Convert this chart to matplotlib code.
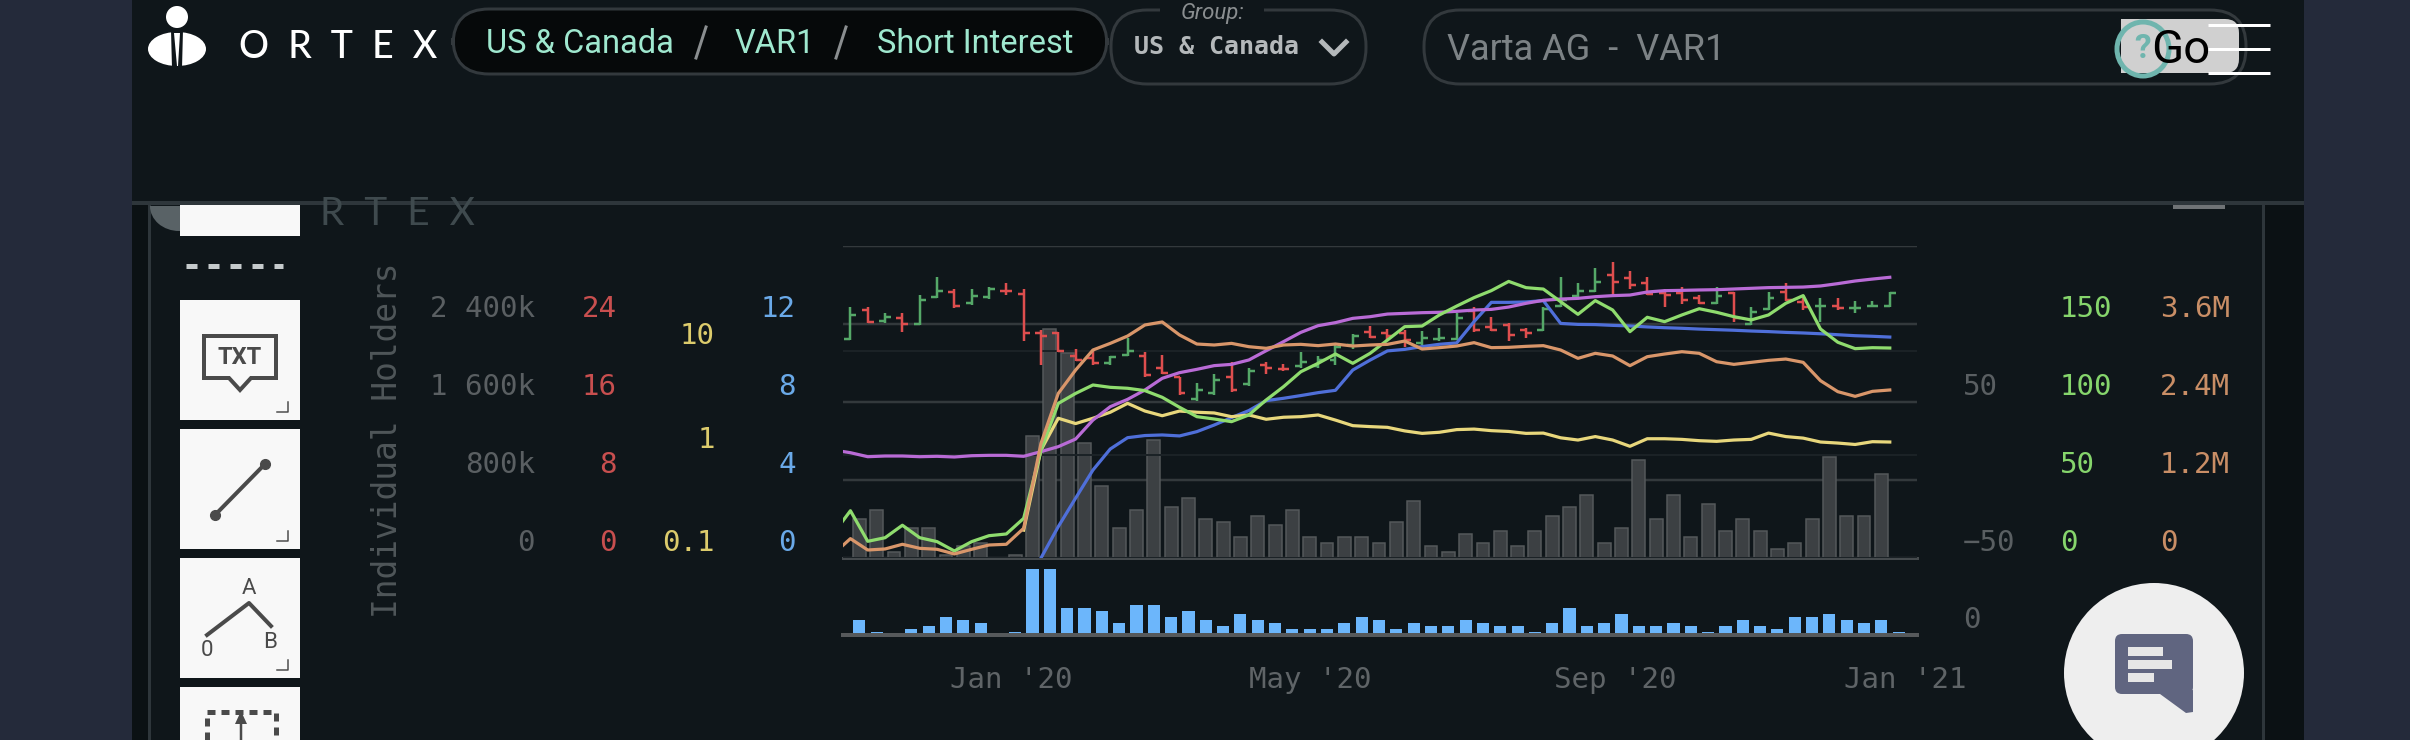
import matplotlib
matplotlib.use("Agg")
import matplotlib.pyplot as plt
import pandas as pd
from matplotlib.patches import Rectangle, Ellipse, Circle, FancyBboxPatch, Polygon
from matplotlib.transforms import ScaledTranslation

# ---------- Data (weekly) ----------
price_open = [22.46, 25.40, 24.31, 24.65, 23.97, 26.74, 27.28, 26.12, 26.74, 27.42, 27.11, 23.11, 23.11, 20.72, 20.48, 19.96, 20.85, 20.72, 19.49, 18.56, 16.27, 16.92, 18.53, 17.81, 19.83, 19.42, 19.69, 19.72, 20.31, 21.84, 23.21, 23.11, 23.04, 22.02, 22.49, 22.46, 25.33, 23.73, 23.89, 23.42, 23.38, 25.85, 26.91, 27.35, 29.03, 28.68, 28.17, 27.15, 27.15, 26.63, 26.19, 27.18, 24.00, 25.57, 27.32, 26.29, 25.85, 25.85, 25.61, 25.88, 25.85]
price_high = [25.71, 25.71, 25.09, 25.09, 26.94, 28.79, 27.56, 27.56, 27.83, 28.21, 27.56, 23.38, 23.21, 21.40, 21.33, 20.72, 22.53, 21.13, 20.82, 18.60, 17.98, 18.90, 20.14, 19.52, 20.14, 19.86, 21.09, 20.75, 21.84, 22.94, 23.83, 23.52, 23.38, 23.28, 23.56, 25.09, 25.71, 24.75, 24.14, 23.56, 25.71, 28.79, 28.17, 29.71, 30.33, 29.40, 28.79, 27.56, 27.83, 26.94, 27.83, 27.25, 25.71, 27.25, 28.17, 26.94, 26.63, 26.63, 26.32, 26.32, 27.25]
price_low = [22.36, 24.14, 24.14, 23.21, 23.89, 26.63, 25.68, 25.98, 26.60, 26.94, 22.29, 19.79, 21.13, 20.17, 19.79, 19.79, 20.72, 18.60, 18.90, 16.75, 16.13, 16.75, 17.06, 17.64, 18.90, 19.14, 19.52, 19.52, 19.79, 21.40, 22.60, 22.36, 21.67, 21.84, 22.29, 22.36, 23.21, 23.28, 22.29, 22.60, 23.28, 25.71, 26.63, 27.25, 26.94, 27.56, 26.94, 25.71, 26.02, 26.02, 26.02, 24.17, 23.86, 25.40, 26.32, 25.40, 24.17, 25.40, 25.09, 25.71, 25.71]
price_close = [24.92, 24.24, 24.68, 24.00, 26.50, 27.39, 25.81, 26.91, 27.56, 27.39, 23.07, 22.77, 21.23, 20.31, 19.96, 20.65, 21.23, 18.73, 19.01, 16.89, 17.23, 18.22, 17.19, 19.14, 19.52, 19.38, 20.14, 20.31, 21.61, 22.77, 22.70, 22.77, 22.36, 22.53, 22.53, 24.65, 23.42, 23.38, 22.87, 23.04, 25.54, 26.46, 27.39, 28.34, 28.34, 28.00, 27.08, 26.97, 26.46, 26.19, 26.87, 24.58, 25.26, 26.63, 26.46, 25.71, 25.85, 25.61, 25.61, 25.88, 27.15]

volume_k = [403, 489, 62, 308, 308, 35, 123, 154, 4, 31, 1252, 2350, 2103, 1180, 739, 308, 489, 1211, 523, 616, 400, 369, 215, 431, 339, 489, 215, 154, 215, 215, 154, 369, 585, 123, 62, 246, 154, 277, 123, 277, 431, 523, 646, 154, 308, 1005, 400, 646, 215, 554, 277, 400, 277, 92, 154, 400, 1039, 431, 431, 862, 4]
blue_bars = [5, 1, 0, 2, 3, 6, 5, 4, 0, 1, 22, 22, 9, 9, 8, 4, 10, 10, 6, 8, 5, 3, 7, 5, 4, 2, 2, 2, 4, 6, 5, 2, 4, 3, 3, 5, 4, 3, 3, 1, 4, 9, 3, 4, 7, 3, 3, 4, 3, 1, 3, 5, 3, 2, 6, 6, 7, 5, 4, 5, 1]

# lines start one week before the first bar, the left edge clips that point
holders_k = [1108, 1080, 1039, 1046, 1046, 1039, 1043, 1036, 1049, 1053, 1053, 1043, 1091, 1142, 1220, 1415, 1552, 1627, 1723, 1843, 1901, 1935, 1973, 1986, 2031, 2126, 2219, 2314, 2383, 2414, 2458, 2475, 2502, 2509, 2516, 2520, 2530, 2543, 2550, 2574, 2612, 2643, 2656, 2663, 2680, 2691, 2697, 2728, 2742, 2745, 2749, 2752, 2759, 2766, 2773, 2776, 2779, 2790, 2814, 2841, 2861, 2879]
orange_k = [57, 298, 123, 139, 211, 149, 134, 62, 134, 200, 211, 457, 1764, 2533, 2892, 3200, 3302, 3415, 3585, 3631, 3431, 3292, 3277, 3302, 3251, 3226, 3277, 3287, 3267, 3292, 3261, 3277, 3287, 3338, 3215, 3236, 3261, 3313, 3236, 3241, 3256, 3267, 3200, 3072, 3149, 3108, 2959, 3097, 3138, 3174, 3149, 3020, 2979, 3010, 3041, 3061, 3010, 2728, 2559, 2487, 2564, 2585]
green_line = [15.4, 30.3, 10.7, 13.0, 21.0, 13.0, 10.5, 4.5, 10.5, 14.3, 15.4, 25.4, 69.2, 99.1, 105.5, 110.9, 109.4, 108.8, 107.3, 103.0, 96.6, 90.6, 89.1, 87.4, 91.7, 101.3, 109.8, 119.4, 124.8, 130.8, 124.8, 131.2, 139.7, 148.3, 148.7, 155.8, 161.5, 166.9, 171.4, 177.3, 173.3, 172.4, 164.3, 156.2, 165.0, 159.0, 145.1, 154.3, 151.5, 155.8, 159.8, 157.5, 154.7, 152.6, 155.8, 163.3, 168.2, 146.8, 138.3, 134.2, 134.8, 134.6]
# these two only begin in January 2020
blue_line = [0.0, 1.61, 3.07, 4.51, 5.59, 6.17, 6.28, 6.31, 6.26, 6.48, 6.82, 7.20, 7.56, 8.07, 8.19, 8.33, 8.48, 8.60, 9.64, 10.15, 10.62, 10.70, 10.84, 10.96, 11.03, 12.12, 13.11, 13.11, 13.13, 13.20, 12.03, 11.98, 11.97, 11.93, 11.90, 11.85, 11.81, 11.78, 11.74, 11.71, 11.68, 11.64, 11.61, 11.57, 11.54, 11.50, 11.45, 11.40, 11.37, 11.33]
yellow_line = [0.186, 1.105, 2.24, 1.99, 2.24, 2.56, 3.12, 2.63, 2.37, 2.63, 2.56, 2.52, 2.32, 2.41, 2.19, 2.29, 2.32, 2.41, 2.15, 1.90, 1.86, 1.83, 1.69, 1.60, 1.64, 1.74, 1.76, 1.70, 1.67, 1.60, 1.61, 1.45, 1.38, 1.49, 1.38, 1.20, 1.42, 1.42, 1.40, 1.36, 1.34, 1.38, 1.40, 1.61, 1.49, 1.44, 1.32, 1.29, 1.25, 1.33, 1.32]

tick_dates = ["2020-01-01", "2020-05-01", "2020-09-01", "2021-01-01"]
tick_names = ["Jan '20", "May '20", "Sep '20", "Jan '21"]

BG = "#0f161a"
PAGE = "#242a3a"
EDGE = "#2e363b"
MONO = "DejaVu Sans Mono"
GRAY_LAB = "#5a5f62"
RED, GREEN = "#de4e4e", "#55a868"

W, H = 2410, 740
fig = plt.figure(figsize=(W / 100, H / 100), dpi=100, facecolor=PAGE)

# ---------- Page furniture, drawn in pixels ----------
ui = fig.add_axes([0, 0, 1, 1], zorder=0)
ui.set_xlim(0, W)
ui.set_ylim(H, 0)
ui.axis("off")


def px(n):
    return n * 0.72


def pill(x0, y0, x1, y1, face="none", edge="#33393d", rad=36, lw=3, z=2):
    ui.add_patch(FancyBboxPatch((x0 + rad, y0 + rad), x1 - x0 - 2 * rad, y1 - y0 - 2 * rad,
                                boxstyle=f"round,pad={rad},rounding_size={rad}",
                                fc=face, ec=edge, lw=px(lw), zorder=z))


ui.add_patch(Rectangle((132, 0), 2172, H, fc=BG, ec="none", zorder=0))
ui.add_patch(Rectangle((132, 205), 17, H, fc="#0b1114", ec="none", zorder=0))
ui.add_patch(Rectangle((2263, 205), 41, H, fc="#0b1114", ec="none", zorder=0))
ui.plot([132, 2304], [203, 203], color=EDGE, lw=px(4), zorder=1, solid_capstyle="butt")
ui.plot([149, 149], [205, H], color=EDGE, lw=px(3), zorder=1)
ui.plot([2263, 2263], [205, H], color=EDGE, lw=px(3), zorder=1)
ui.add_patch(Rectangle((2173, 205), 52, 4, fc="#6f7376", ec="none", zorder=1))

# logo
ui.add_patch(Circle((177, 17), 11, fc="white", ec="none", zorder=2))
ui.add_patch(Ellipse((177, 49), 58, 34, fc="white", ec="none", zorder=2))
ui.add_patch(Polygon([(171, 30), (183, 30), (182, 68), (172, 68)], fc=BG, ec="none", zorder=3))
ui.add_patch(Polygon([(174, 33), (180, 33), (178, 66), (177, 66)], fc="white", ec="none", zorder=3))
ui.text(338, 48, "O  R  T  E  X", color="white", fontsize=27, family="Lato", weight="medium", ha="center", va="center", zorder=3)

# breadcrumb
MINT = "#9fe8cf"
pill(453, 9, 1107, 74, face="#06090a")
ui.text(580, 44, "US & Canada", color=MINT, fontsize=23.5, family="Roboto", ha="center", va="center", zorder=3)
ui.text(775, 44, "VAR1", color=MINT, fontsize=23.5, family="Roboto", ha="center", va="center", zorder=3)
ui.text(975, 44, "Short Interest", color=MINT, fontsize=23.5, family="Roboto", ha="center", va="center", zorder=3)
for sx in (701, 841):
    ui.plot([sx + 5, sx - 5], [27, 58], color="#8a8e90", lw=px(3), zorder=3)

# group selector
pill(1111, 10, 1366, 84)
ui.add_patch(Rectangle((1160, 4), 104, 12, fc=BG, ec="none", zorder=3))
ui.text(1213, 13, "Group:", color="#8a8e90", fontsize=16, style="italic", family="Roboto", ha="center", va="center", zorder=4)
ui.text(1216, 47, "US & Canada", color="#b4b8ba", fontsize=18, weight="bold", family="DejaVu Sans Mono", ha="center", va="center", zorder=3)
ui.plot([1322, 1334, 1346], [42, 54, 42], color="#b4b8ba", lw=px(5), zorder=3)

# search box
pill(1424, 10, 2246, 84)
ui.text(1447, 50, "Varta AG  -  VAR1", color="#7c8285", fontsize=26, family="Roboto", ha="left", va="center", zorder=3)
ui.add_patch(FancyBboxPatch((2135, 33), 90, 26, boxstyle="round,pad=14,rounding_size=14", fc="#d0d0d0", ec="none", zorder=3))
ui.add_patch(Rectangle((2121, 19), 40, 54, fc="#d0d0d0", ec="none", zorder=3))
ui.text(2181, 50, "Go", color="black", fontsize=34, family="Roboto", ha="center", va="center", zorder=5)
ui.add_patch(Ellipse((2143, 49), 52, 54, fc="none", ec="#6fb5ae", lw=px(5), zorder=4))
ui.text(2143, 49, "?", color="#6fb5ae", fontsize=24, weight="bold", family="Roboto", ha="center", va="center", zorder=4)
for hy in (25, 49, 73):
    ui.plot([2208, 2270], [hy, hy], color="white", lw=px(3), zorder=6, solid_capstyle="butt")

# watermark behind the toolbar
clip = Rectangle((132, 206), 500, 40, transform=ui.transData)
blob = Ellipse((179, 206), 58, 50, fc="#596266", ec="none", zorder=1)
ui.add_patch(blob)
blob.set_clip_path(clip)
wm = ui.text(397, 214, "R  T  E  X", color="#3f4a4e", fontsize=28, family="Lato", ha="center", va="center", zorder=1)
wm.set_clip_path(clip)

# toolbar
WHITE = "#f8f8f8"
ICON = "#4a4a4a"
ui.add_patch(Rectangle((180, 205), 120, 31, fc=WHITE, ec="none", zorder=2))
ui.plot([186, 283], [266, 266], color="#c5cacc", lw=px(5), linestyle=(0, (2.2, 2.2)), zorder=2)
for top in (300, 429, 558):
    ui.add_patch(Rectangle((180, top), 120, 120, fc=WHITE, ec="none", zorder=2))
    ui.plot([277, 288, 288], [top + 112, top + 112, top + 102], color=ICON, lw=px(1.5), zorder=3)
ui.add_patch(Rectangle((180, 687), 120, 53, fc=WHITE, ec="none", zorder=2))
ui.add_patch(Polygon([(204, 336), (276, 336), (276, 378), (251, 378), (240, 390), (229, 378), (204, 378)],
                     fc="none", ec=ICON, lw=px(4), zorder=3))
ui.text(240, 357, "TXT", color=ICON, fontsize=17, weight="bold", family="Roboto", ha="center", va="center", zorder=3)
ui.plot([215, 265], [515, 464], color=ICON, lw=px(4), marker="o", ms=7, zorder=3)
ui.plot([207, 249, 271], [635, 603, 626], color=ICON, lw=px(4), zorder=3)
for tx, ty, tt in ((249, 589, "A"), (270, 643, "B"), (207, 651, "0")):
    ui.text(tx, ty, tt, color=ICON, fontsize=16, family="Roboto", ha="center", va="center", zorder=3)
ui.plot([207, 207, 276, 276], [740, 712, 712, 740], color=ICON, lw=px(5), linestyle=(0, (1.6, 1.2)), zorder=3)
ui.plot([241, 241], [740, 722], color=ICON, lw=px(2.5), zorder=3)
ui.add_patch(Polygon([(235, 724), (247, 724), (241, 711)], fc=ICON, ec="none", zorder=3))

# chat bubble
ui.add_patch(Circle((2154, 673), 90, fc="#eeeeee", ec="none", zorder=2))
ui.add_patch(FancyBboxPatch((2122, 641), 64, 46, boxstyle="round,pad=7,rounding_size=7", fc="#606580", ec="none", zorder=3))
ui.add_patch(Polygon([(2160, 694), (2186, 713), (2193, 712), (2193, 690)], fc="#606580", ec="none", zorder=3))
for by, bw in ((647, 35), (660, 44), (673, 26)):
    ui.add_patch(Rectangle((2128, by), bw, 9, fc="#e6e6e6", ec="none", zorder=4))

# ---------- Chart ----------
weeks = pd.date_range("2019-10-28", periods=61, freq="7D")
line_dates = pd.date_range("2019-10-21", periods=62, freq="7D")
bar_dates = weeks + pd.Timedelta(days=3.6)
half = pd.Timedelta(days=2.4)

left, width = 843 / W, 1074 / W
ax = fig.add_axes([left, (H - 558) / H, width, 312 / H], zorder=2)
ax.patch.set_alpha(0)
ax.set_xlim(pd.Timestamp("2019-10-25"), pd.Timestamp("2021-01-01"))


def style_axis(a, side, pad, color, ticks, labels, ylim, lift=18):
    a.set_ylim(*ylim)
    if side == "left":
        a.yaxis.tick_left()
    else:
        a.yaxis.tick_right()
    a.set_yticks(ticks)
    a.set_yticklabels(labels, fontsize=21, family=MONO, color=color)
    a.minorticks_off()
    a.tick_params(axis="y", length=0, pad=px(pad))
    a.tick_params(axis="x", length=0, labelbottom=False)
    up = ScaledTranslation(0, lift / 100, fig.dpi_scale_trans)
    for lab in a.get_yticklabels():
        lab.set_transform(lab.get_transform() + up)
    for sp in a.spines.values():
        sp.set_visible(False)
    a.patch.set_alpha(0)


style_axis(ax, "left", 308, GRAY_LAB, [0, 800, 1600, 2400, 3200], ["0", "800k", "1 600k", "2 400k", ""], (0, 3200))
ax.set_axisbelow(True)
ax.grid(axis="y", color="#33393c", lw=px(2.5))
ax.spines["bottom"].set_visible(True)
ax.spines["bottom"].set_color("#454a4d")
ax.spines["bottom"].set_linewidth(px(3))
ax.bar(bar_dates, volume_k, width=5.2, color="#3c4043", edgecolor="#55595b", linewidth=px(1.5))
fig.text(387 / W, 1 - 440 / H, "Individual Holders", rotation=90, color="#4f5659", fontsize=23.7,
         family=MONO, ha="center", va="center", zorder=3)

ax_yellow = ax.twinx()
ax_yellow.set_yscale("log")
style_axis(ax_yellow, "left", 128, "#dccb6c", [0.1, 1, 10], ["0.1", "1", "10"], (0.1, 103.4))
ax_yellow.grid(axis="y", color="#1b2226", lw=px(2))

ax_price = ax.twinx()
style_axis(ax_price, "left", 226, "#c84f4f", [0, 8, 16, 24], ["0", "8", "16", "24"], (0, 32))
for i, day in enumerate(weeks):
    col = GREEN if price_close[i] >= price_open[i] else RED
    ax_price.vlines(day, price_low[i], price_high[i], color=col, lw=px(2.5))
    ax_price.hlines(price_open[i], day - half, day, color=col, lw=px(2.5))
    ax_price.hlines(price_close[i], day, day + half, color=col, lw=px(2.5))

ax_blue = ax.twinx()
style_axis(ax_blue, "left", 47, "#6aa9e8", [0, 4, 8, 12], ["0", "4", "8", "12"], (0, 16))
ax_blue.plot(line_dates[-len(blue_line):], blue_line, color="#4f6fd9", lw=px(3.2))

ax_yellow2 = ax.twinx()
ax_yellow2.set_yscale("log")
style_axis(ax_yellow2, "left", 0, "none", [], [], (0.1, 103.4))
ax_yellow2.plot(line_dates[-len(yellow_line):], yellow_line, color="#e8d77c", lw=px(3.2))

ax_gray = ax.twinx()
style_axis(ax_gray, "right", 46, GRAY_LAB, [-50, 50], ["\u221250", "50"], (-50, 150))

ax_holders = ax.twinx()
style_axis(ax_holders, "left", 0, "none", [], [], (0, 3200))
ax_holders.plot(line_dates, holders_k, color="#b96bd6", lw=px(3.2))

ax_green = ax.twinx()
style_axis(ax_green, "right", 143, "#86d56c", [0, 50, 100, 150], ["0", "50", "100", "150"], (0, 200))
ax_green.plot(line_dates, green_line, color="#8fdc6e", lw=px(3.2))

ax_orange = ax.twinx()
style_axis(ax_orange, "right", 243, "#c98e66", [0, 1200, 2400, 3600], ["0", "1.2M", "2.4M", "3.6M"], (0, 4800))
ax_orange.plot(line_dates, orange_k, color="#d9966a", lw=px(3.2))

# lower panel
ax_low = fig.add_axes([left, (H - 635) / H, width, 69 / H], sharex=ax, zorder=2)
ax_low.patch.set_alpha(0)
ax_low.bar(bar_dates, blue_bars, width=4.9, color="#6cb6fb")
style_axis(ax_low, "right", 46, GRAY_LAB, [0], ["0"], (0, 23))
ax_low.spines["bottom"].set_visible(True)
ax_low.spines["bottom"].set_color("#56595b")
ax_low.spines["bottom"].set_linewidth(px(4))
ax_low.set_xticks(pd.to_datetime(tick_dates))
ax_low.set_xticklabels(tick_names, fontsize=21, family=MONO, color="#5f6467")
ax_low.tick_params(axis="x", length=0, pad=px(31), labelbottom=True)
ax_low.set_xlim(pd.Timestamp("2019-10-25"), pd.Timestamp("2021-01-01"))
# the last label is pulled in from the right edge
last = ax_low.get_xticklabels()[-1]
last.set_transform(last.get_transform() + ScaledTranslation(-12 / 100, 0, fig.dpi_scale_trans))

plt.savefig("out.png", dpi=100, facecolor=PAGE)
